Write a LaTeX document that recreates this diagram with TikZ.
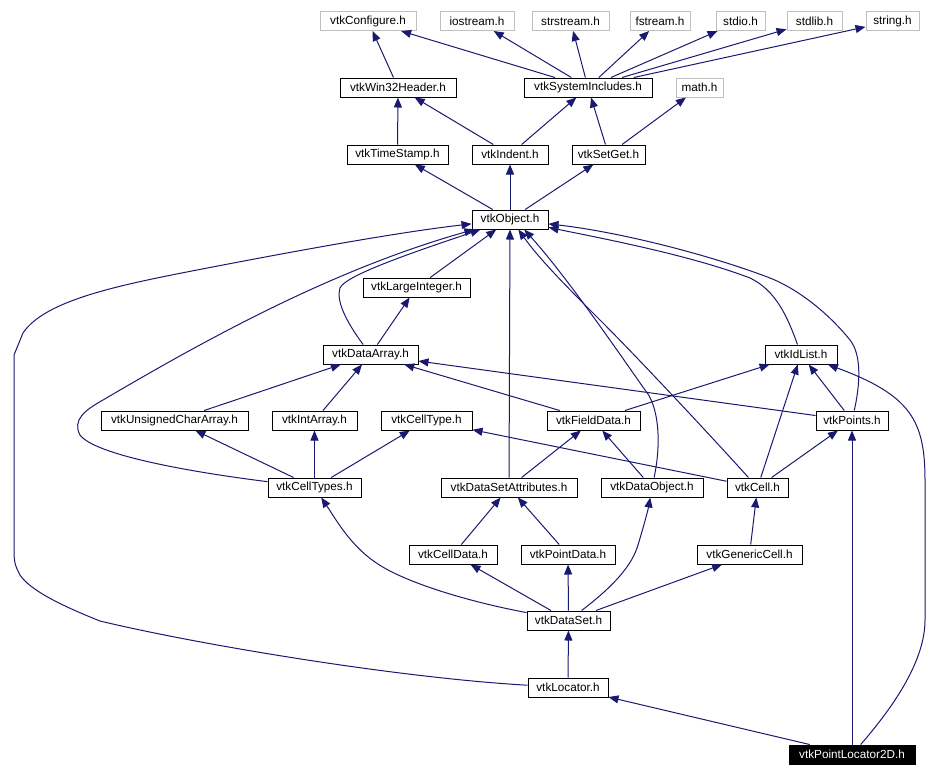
\documentclass[tikz,border=0pt]{standalone}
\usepackage{fontspec}
\setmainfont{Liberation Sans}
\usetikzlibrary{arrows.meta}
\definecolor{DoxEdge}{HTML}{191970}
\definecolor{DoxGray}{HTML}{BFBFBF}

\begin{document}
\begin{tikzpicture}[
  x=0.75pt, y=-0.75pt,
  hdr/.style={rectangle, draw=black, fill=white, line width=0.75pt, minimum height=14.25pt, inner sep=0pt, font=\fontsize{8.8}{10}\selectfont},
  sys/.style={hdr, draw=DoxGray},
  cur/.style={hdr, fill=black, text=white},
  boxw/.style={minimum width=#1*0.75pt},
  inc/.style={-{Triangle[length=7.5pt,width=6pt]}, draw=DoxEdge, line width=0.75pt}
]
\useasboundingbox (0,0) rectangle (941,776);

\node[sys, boxw=96]  (conf)   at (368,21)    {vtkConfigure.h};
\node[sys, boxw=74]  (ios)    at (477,21)    {iostream.h};
\node[sys, boxw=77]  (sstr)   at (570.5,21)  {strstream.h};
\node[sys, boxw=60]  (fstr)   at (660,21)    {fstream.h};
\node[sys, boxw=49]  (stdio)  at (740.5,21)  {stdio.h};
\node[sys, boxw=55]  (stdlib) at (814.5,21)  {stdlib.h};
\node[sys, boxw=53]  (str)    at (892.5,21)  {string.h};

\node[hdr, boxw=116] (win32)  at (398,87.5)   {vtkWin32Header.h};
\node[hdr, boxw=128] (sysinc) at (588,87.5)   {vtkSystemIncludes.h};
\node[sys, boxw=47]  (math)   at (699.5,87.5) {math.h};

\node[hdr, boxw=101] (tstamp) at (397.5,154.5) {vtkTimeStamp.h};
\node[hdr, boxw=76]  (indent) at (510,154.5)   {vtkIndent.h};
\node[hdr, boxw=73]  (setget) at (608.5,154.5) {vtkSetGet.h};

\node[hdr, boxw=76]  (obj)    at (510,219.5)   {vtkObject.h};
\node[hdr, boxw=107] (lint)   at (416.5,287.5) {vtkLargeInteger.h};
\node[hdr, boxw=95]  (darr)   at (370.5,354.5) {vtkDataArray.h};
\node[hdr, boxw=72]  (idl)    at (801,354.5)   {vtkIdList.h};

\node[hdr, boxw=147] (ucarr)  at (174.5,420.5) {vtkUnsignedCharArray.h};
\node[hdr, boxw=85]  (iarr)   at (314.5,420.5) {vtkIntArray.h};
\node[hdr, boxw=91]  (ctype)  at (426.5,420.5) {vtkCellType.h};
\node[hdr, boxw=93]  (fdata)  at (593.5,420.5) {vtkFieldData.h};
\node[hdr, boxw=72]  (pts)    at (852,420.5)   {vtkPoints.h};

\node[hdr, boxw=93]  (ctypes) at (314.5,487.5) {vtkCellTypes.h};
\node[hdr, boxw=136] (dsattr) at (509,487.5)   {vtkDataSetAttributes.h};
\node[hdr, boxw=102] (dobj)   at (652,487.5)   {vtkDataObject.h};
\node[hdr, boxw=61]  (cell)   at (757.5,487.5) {vtkCell.h};

\node[hdr, boxw=88]  (cdata)  at (453,554.5)   {vtkCellData.h};
\node[hdr, boxw=94]  (pdata)  at (568,554.5)   {vtkPointData.h};
\node[hdr, boxw=105] (gcell)  at (749.5,554.5) {vtkGenericCell.h};

\node[hdr, boxw=83]  (dset)   at (568.5,620.5) {vtkDataSet.h};
\node[hdr, boxw=80]  (loc)    at (568,687.5)   {vtkLocator.h};
\node[cur, boxw=126] (plc)    at (852,754.5)   {vtkPointLocator2D.h};

\draw[inc] (win32) -- (conf);
\foreach \t in {conf,ios,sstr,fstr,stdio,stdlib,str}
  \draw[inc] (sysinc) -- (\t);
\draw[inc] (tstamp) -- (win32);
\draw[inc] (indent) -- (win32);
\draw[inc] (indent) -- (sysinc);
\draw[inc] (setget) -- (sysinc);
\draw[inc] (setget) -- (math);
\draw[inc] (obj) -- (tstamp);
\draw[inc] (obj) -- (indent);
\draw[inc] (obj) -- (setget);

\draw[inc] (lint) -- (obj);
\draw[inc] (darr) -- (lint);
\draw[inc] (darr) .. controls (345,320) and (336,300) .. (340,288)
  .. controls (345,275) and (420,250) .. (obj);
\draw[inc] (idl) .. controls (787,315) and (775,290) .. (750,278)
  .. controls (690,255) and (600,238) .. (obj);
\draw[inc] (pts) .. controls (860,385) and (862,355) .. (850,340)
  .. controls (830,315) and (800,290) .. (770,278)
  .. controls (710,255) and (620,232) .. (obj);
\draw[inc] (pts) -- (darr);
\draw[inc] (pts) -- (idl);

\draw[inc] (ucarr) -- (darr);
\draw[inc] (iarr) -- (darr);
\draw[inc] (fdata) -- (darr);
\draw[inc] (fdata) -- (idl);

\draw[inc] (ctypes) .. controls (190,472) and (95,455) .. (80,435)
  .. controls (72,420) and (85,410) .. (103,400)
  .. controls (200,343) and (330,270) .. (obj);
\draw[inc] (ctypes) -- (ucarr);
\draw[inc] (ctypes) -- (iarr);
\draw[inc] (ctypes) -- (ctype);
\draw[inc] (dsattr) -- (obj);
\draw[inc] (dsattr) -- (fdata);
\draw[inc] (dobj) .. controls (662,440) and (658,405) .. (645,390)
  .. controls (610,340) and (565,275) .. (obj.-35);
\draw[inc] (dobj) -- (fdata);
\draw[inc] (cell) .. controls (710,435) and (640,360) .. (600,320)
  .. controls (570,290) and (540,260) .. (obj.-50);
\draw[inc] (cell) -- (ctype);
\draw[inc] (cell) -- (idl);
\draw[inc] (cell) -- (pts);

\draw[inc] (cdata) -- (dsattr);
\draw[inc] (pdata) -- (dsattr);
\draw[inc] (gcell) -- (cell);

\draw[inc] (dset) .. controls (460,600) and (400,580) .. (375,562)
  .. controls (350,545) and (335,518) .. (ctypes);
\draw[inc] (dset) -- (cdata);
\draw[inc] (dset) -- (pdata);
\draw[inc] (dset) .. controls (615,585) and (632,565) .. (638,545)
  .. controls (644,525) and (648,510) .. (dobj);
\draw[inc] (dset) -- (gcell);

\draw[inc] (loc) -- (dset);
\draw[inc] (loc) .. controls (400,678) and (200,645) .. (100,621)
  .. controls (60,605) and (30,590) .. (20,575)
  .. controls (15,565) .. (14,555) -- (14,355) -- (23,333)
  .. controls (45,300) and (120,285) .. (197,270)
  .. controls (300,250) and (400,232) .. (obj);

\draw[inc] (plc) -- (loc);
\draw[inc] (plc) -- (pts);
\draw[inc] (plc) .. controls (895,705) and (925,660) .. (925,620) -- (925,480)
  .. controls (925,420) and (910,395) .. (idl);
\end{tikzpicture}
\end{document}
